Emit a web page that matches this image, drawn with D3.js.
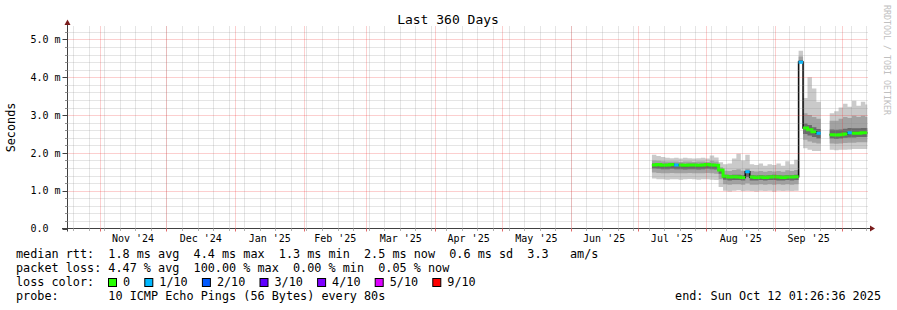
<!DOCTYPE html>
<html>
<head>
<meta charset="utf-8">
<script src="https://cdn.jsdelivr.net/npm/d3@7"></script>
<style>
  body { margin: 0; background: #fff; }
  svg { display: block; font-family: "DejaVu Sans Mono", monospace; }
  text { white-space: pre; }
</style>
</head>
<body>
<svg id="chart" width="897" height="310"></svg>
<script>
// time range of the graph and the 2-day bins holding the probe data
const startDate = new Date("2024-10-17T12:00:00Z");
const endDate = new Date("2025-10-12T12:00:00Z");
const firstBin = new Date("2025-07-07T12:00:00Z");
const binDays = 2;

// ping distribution per bin, ms (null = no data)
const pingMax = [
  1.95, 1.92, 1.89, 1.87, 1.86, 1.87, 1.85, 1.87, 1.86, 1.85, 1.86, 1.87, 1.85, 1.93, 1.88,
  1.75, 1.70, 1.72, 1.85, 1.98, 1.80, 1.95, 1.70, 1.68, 1.72, 1.66, 1.70, 1.68, 1.72, 1.66, 1.78, 1.70, 1.82,
  4.70,
  3.45, 4.00, 3.70, 3.35,
  null, null,
  3.05, 3.10, 3.20, 3.30, 3.22, 3.38, 3.25, 3.35, 3.28,
];
const ping80 = [
  1.80, 1.79, 1.78, 1.77, 1.77, 1.77, 1.76, 1.77, 1.77, 1.76, 1.77, 1.77, 1.76, 1.79, 1.77,
  1.62, 1.53, 1.52, 1.55, 1.57, 1.53, 1.58, 1.52, 1.51, 1.52, 1.50, 1.52, 1.51, 1.52, 1.50, 1.54, 1.52, 1.55,
  4.55,
  3.05, 3.00, 2.95, 2.90,
  null, null,
  2.85, 2.85, 2.90, 2.95, 2.92, 2.98, 2.95, 2.98, 2.95,
];
const ping60 = [
  1.72, 1.72, 1.71, 1.71, 1.72, 1.71, 1.71, 1.70, 1.71, 1.71, 1.70, 1.71, 1.72, 1.71, 1.70,
  1.57, 1.42, 1.41, 1.42, 1.42, 1.41, 1.52, 1.41, 1.40, 1.41, 1.40, 1.41, 1.42, 1.41, 1.40, 1.41, 1.41, 1.42,
  4.45,
  2.78, 2.74, 2.68, 2.63,
  null, null,
  2.62, 2.61, 2.62, 2.64, 2.66, 2.65, 2.65, 2.66, 2.66,
];
const median = [
  1.68, 1.69, 1.67, 1.68, 1.69, 1.68, 1.68, 1.67, 1.68, 1.68, 1.67, 1.68, 1.69, 1.68, 1.67,
  1.55, 1.38, 1.36, 1.37, 1.36, 1.35, 1.50, 1.36, 1.35, 1.36, 1.35, 1.36, 1.37, 1.36, 1.35, 1.36, 1.36, 1.37,
  4.40,
  2.66, 2.61, 2.56, 2.52,
  null, null,
  2.48, 2.47, 2.48, 2.50, 2.53, 2.52, 2.52, 2.53, 2.53,
];
const ping40 = [
  1.59, 1.58, 1.57, 1.57, 1.58, 1.57, 1.57, 1.56, 1.57, 1.57, 1.56, 1.57, 1.58, 1.57, 1.56,
  1.45, 1.29, 1.27, 1.28, 1.28, 1.27, 1.36, 1.27, 1.27, 1.28, 1.27, 1.28, 1.28, 1.27, 1.27, 1.28, 1.27, 1.28,
  4.40,
  2.50, 2.46, 2.42, 2.38,
  null, null,
  2.38, 2.37, 2.38, 2.40, 2.41, 2.41, 2.42, 2.42, 2.42,
];
const ping20 = [
  1.48, 1.47, 1.46, 1.46, 1.47, 1.46, 1.46, 1.46, 1.47, 1.46, 1.46, 1.46, 1.47, 1.46, 1.45,
  1.30, 1.17, 1.16, 1.17, 1.17, 1.16, 1.20, 1.16, 1.16, 1.17, 1.16, 1.17, 1.16, 1.17, 1.16, 1.17, 1.16, 1.17,
  4.40,
  2.35, 2.30, 2.27, 2.25,
  null, null,
  2.25, 2.24, 2.25, 2.26, 2.27, 2.27, 2.28, 2.28, 2.28,
];
const pingMin = [
  1.32, 1.30, 1.30, 1.29, 1.30, 1.30, 1.29, 1.30, 1.31, 1.30, 1.29, 1.30, 1.30, 1.29, 1.28,
  1.10, 1.00, 0.98, 1.00, 1.01, 0.99, 1.00, 0.99, 0.98, 1.00, 0.99, 1.00, 0.98, 1.00, 0.99, 1.00, 0.99, 1.00,
  4.40,
  2.12, 2.08, 2.05, 2.05,
  null, null,
  2.08, 2.07, 2.08, 2.08, 2.09, 2.10, 2.10, 2.10, 2.10,
];
// lost pings out of 10 per bin
const lossCount = [
  0, 0, 0, 0, 0, 1, 0, 0, 0, 0, 0, 0, 0, 0, 0,
  0, 0, 0, 0, 0, 0, 1, 0, 0, 0, 0, 0, 0, 0, 0, 0, 0, 0,
  1,
  0, 0, 0, 1,
  null, null,
  0, 0, 0, 0, 1, 0, 0, 0, 0,
];

const yMax = 5.29;
const yTicks = [0, 1, 2, 3, 4, 5];
const yTickLabels = ["0.0  ", "1.0 m", "2.0 m", "3.0 m", "4.0 m", "5.0 m"];
const monthLabels = ["Nov '24", "Dec '24", "Jan '25", "Feb '25", "Mar '25", "Apr '25",
  "May '25", "Jun '25", "Jul '25", "Aug '25", "Sep '25"];

const lossLabels = ["0", "1/10", "2/10", "3/10", "4/10", "5/10", "9/10"];
const lossColors = ["#26ff00", "#00b8ff", "#0059ff", "#5e00ff", "#7e00ff", "#dd00ff", "#ff0000"];

const legendLines = [
  "median rtt:  1.8 ms avg  4.4 ms max  1.3 ms min  2.5 ms now  0.6 ms sd  3.3   am/s",
  "packet loss: 4.47 % avg  100.00 % max  0.00 % min  0.05 % now",
  "loss color:",
  "probe:       10 ICMP Echo Pings (56 Bytes) every 80s",
];
const endStamp = "end: Sun Oct 12 01:26:36 2025";
const titleText = "Last 360 Days";
const yTitle = "Seconds";
const watermark = "RRDTOOL / TOBI OETIKER";

const W = 897;
const H = 310;
const plot = { left: 67.5, right: 867.5, top: 28.5, bottom: 228.5 };
const charW = 7.1;

const svg = d3.select("#chart");
svg.append("rect").attr("width", W).attr("height", H).attr("fill", "#fff");

const x = d3.scaleUtc().domain([startDate, endDate]).range([plot.left, plot.right]);
const y = d3.scaleLinear().domain([0, yMax]).range([plot.bottom, plot.top]);

function lossClass(n) {
  return n > 5 ? 6 : n;
}

// two points per bin so the areas and lines come out as steps
const points = [];
median.forEach((m, i) => {
  const t0 = d3.utcDay.offset(firstBin, i * binDays);
  let t1 = d3.utcDay.offset(firstBin, (i + 1) * binDays);
  if (t1 > endDate) t1 = endDate;
  const row = {
    min: pingMin[i], p20: ping20[i], p40: ping40[i], med: m,
    p60: ping60[i], p80: ping80[i], max: pingMax[i], loss: lossCount[i],
  };
  points.push({ ...row, t: t0 }, { ...row, t: t1 });
});
const hasData = (d) => d.med != null;

svg.append("clipPath").attr("id", "plot-clip")
  .append("rect")
  .attr("x", plot.left).attr("y", plot.top - 2)
  .attr("width", plot.right - plot.left).attr("height", plot.bottom - plot.top + 2);

const graph = svg.append("g").attr("clip-path", "url(#plot-clip)");

// smoke
const smokeBands = [
  ["min", "max", "#cacaca"],
  ["p20", "p80", "#a2a2a2"],
  ["p40", "p60", "#6a6a6a"],
];
smokeBands.forEach(([lo, hi, color]) => {
  const area = d3.area()
    .defined(hasData)
    .x((d) => x(d.t))
    .y0((d) => y(d[lo]))
    .y1((d) => y(d[hi]));
  graph.append("path")
    .attr("d", area(points))
    .attr("fill", color);
});

// grid on top of the smoke
const grid = svg.append("g").attr("fill", "none").attr("stroke-dasharray", "1,1");
const minorY = d3.range(1, Math.floor(yMax / 0.2) + 1).map((k) => k * 0.2)
  .filter((v) => Math.abs(v - Math.round(v)) > 0.01);
const weeks = d3.utcWeek.range(startDate, endDate);
const months = d3.utcMonth.range(startDate, endDate);

grid.selectAll(".minor-h").data(minorY).join("line")
  .attr("x1", plot.left + 1).attr("x2", plot.right)
  .attr("y1", (v) => Math.round(y(v)) + 0.5).attr("y2", (v) => Math.round(y(v)) + 0.5)
  .attr("stroke", "rgba(140,140,140,0.45)");
grid.selectAll(".minor-v").data(weeks).join("line")
  .attr("x1", (d) => Math.round(x(d)) + 0.5).attr("x2", (d) => Math.round(x(d)) + 0.5)
  .attr("y1", plot.top - 2).attr("y2", plot.bottom)
  .attr("stroke", "rgba(140,140,140,0.45)");
grid.selectAll(".major-h").data(yTicks.slice(1)).join("line")
  .attr("x1", plot.left + 1).attr("x2", plot.right)
  .attr("y1", (v) => Math.round(y(v)) + 0.5).attr("y2", (v) => Math.round(y(v)) + 0.5)
  .attr("stroke", "rgba(240,40,40,0.45)");
grid.selectAll(".major-v").data(months).join("line")
  .attr("x1", (d) => Math.round(x(d)) + 0.5).attr("x2", (d) => Math.round(x(d)) + 0.5)
  .attr("y1", plot.top - 2).attr("y2", plot.bottom)
  .attr("stroke", "rgba(240,40,40,0.45)");

// median: black step line, then loss-coloured segments
const medianLine = d3.line().defined(hasData).x((d) => x(d.t)).y((d) => y(d.med));
graph.append("path")
  .attr("d", medianLine(points))
  .attr("fill", "none")
  .attr("stroke", "#111")
  .attr("stroke-width", 1.6);

lossColors.forEach((color, k) => {
  const line = d3.line()
    .defined((d) => hasData(d) && lossClass(d.loss) === k)
    .x((d) => x(d.t))
    .y((d) => y(d.med));
  graph.append("path")
    .attr("d", line(points))
    .attr("fill", "none")
    .attr("stroke", color)
    .attr("stroke-width", 3);
});

// axes
const axis = svg.append("g").attr("stroke", "#404040").attr("fill", "none");
axis.append("line")
  .attr("x1", plot.left).attr("x2", plot.left)
  .attr("y1", plot.bottom + 3).attr("y2", 22);
axis.append("line")
  .attr("x1", 62).attr("x2", 871)
  .attr("y1", plot.bottom).attr("y2", plot.bottom);
axis.selectAll(".ytick").data(yTicks).join("line")
  .attr("x1", 62.5).attr("x2", plot.left)
  .attr("y1", (v) => Math.round(y(v)) + 0.5).attr("y2", (v) => Math.round(y(v)) + 0.5);
axis.selectAll(".ytick-minor").data(minorY).join("line")
  .attr("x1", 65).attr("x2", plot.left)
  .attr("y1", (v) => Math.round(y(v)) + 0.5).attr("y2", (v) => Math.round(y(v)) + 0.5)
  .attr("stroke", "#909090");
axis.selectAll(".xtick").data(weeks).join("line")
  .attr("x1", (d) => Math.round(x(d)) + 0.5).attr("x2", (d) => Math.round(x(d)) + 0.5)
  .attr("y1", plot.bottom).attr("y2", plot.bottom + 2.5)
  .attr("stroke", "#b0b0b0");
axis.selectAll(".xtick-major").data(months).join("line")
  .attr("x1", (d) => Math.round(x(d)) + 0.5).attr("x2", (d) => Math.round(x(d)) + 0.5)
  .attr("y1", plot.bottom).attr("y2", plot.bottom + 3)
  .attr("stroke", "#e06a6a");

svg.append("path")
  .attr("d", `M${plot.left - 3},25 L${plot.left + 3},25 L${plot.left},19.5 Z`)
  .attr("fill", "#7a1c1c");
svg.append("path")
  .attr("d", `M870,${plot.bottom - 3} L870,${plot.bottom + 3} L875,${plot.bottom} Z`)
  .attr("fill", "#7a1c1c");

// labels
svg.append("text")
  .attr("x", 448).attr("y", 24)
  .attr("text-anchor", "middle")
  .attr("font-size", 13)
  .attr("fill", "#000")
  .text(titleText);

svg.selectAll(".ylabel").data(yTicks).join("text")
  .attr("x", 60.5)
  .attr("y", (v) => y(v) + 3.8)
  .attr("text-anchor", "end")
  .attr("font-size", 10)
  .attr("fill", "#000")
  .text((v, i) => yTickLabels[i]);

svg.append("text")
  .attr("transform", "translate(15,127.5) rotate(-90)")
  .attr("text-anchor", "middle")
  .attr("font-size", 11.8)
  .attr("fill", "#000")
  .text(yTitle);

svg.selectAll(".xlabel").data(monthLabels).join("text")
  .attr("x", (label, i) => (x(months[i]) + x(months[i + 1])) / 2)
  .attr("y", 241.5)
  .attr("text-anchor", "middle")
  .attr("font-size", 10)
  .attr("fill", "#000")
  .text((label) => label);

svg.append("text")
  .attr("transform", "translate(884,5) rotate(90)")
  .attr("font-size", 8.3)
  .attr("fill", "#c0c0c0")
  .text(watermark);

// legend
const legend = svg.append("g").attr("font-size", 11.8).attr("fill", "#000");
legend.selectAll(".row").data(legendLines).join("text")
  .attr("x", 16)
  .attr("y", (line, i) => 258 + i * 14)
  .text((line) => line);

let lx = 108;
lossLabels.forEach((label, i) => {
  legend.append("rect")
    .attr("x", lx + 0.5).attr("y", 278.5)
    .attr("width", 8).attr("height", 8)
    .attr("fill", lossColors[i])
    .attr("stroke", "#000");
  legend.append("text")
    .attr("x", lx + 15).attr("y", 286)
    .text(label);
  lx = lx + 15 + (label.length + 2) * charW;
});

legend.append("text")
  .attr("x", 881).attr("y", 300)
  .attr("text-anchor", "end")
  .text(endStamp);
</script>
</body>
</html>
